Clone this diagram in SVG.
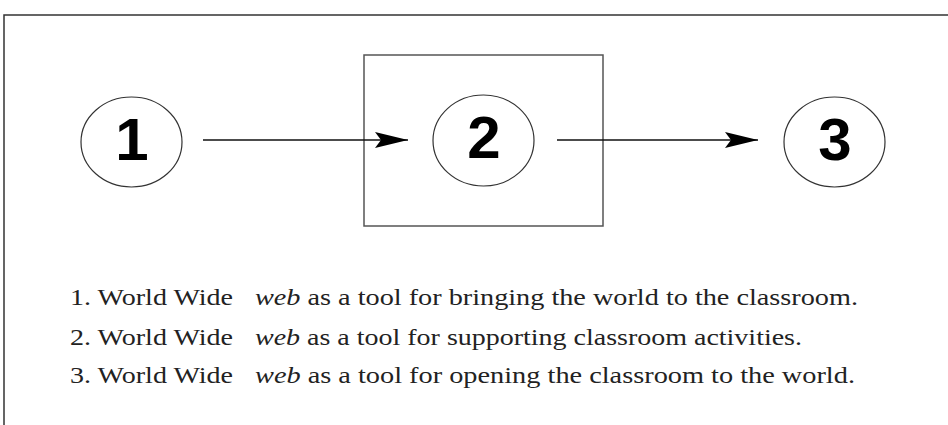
<svg xmlns="http://www.w3.org/2000/svg" width="948" height="425" viewBox="0 0 948 425">
<style>
.frame{fill:none;stroke:#333;stroke-width:1.5}
.box{fill:none;stroke:#555;stroke-width:1.5}
.node{fill:#fff;stroke:#333;stroke-width:1.2}
.num{font-family:"Liberation Sans",Arial,sans-serif;font-weight:bold;font-size:60px;fill:#000;text-anchor:middle}
.edge{stroke:#111;stroke-width:1.6;fill:none}
.cap{font-family:"Liberation Serif","Times New Roman",serif;font-size:24px;fill:#222}
.it{font-style:italic}
</style>
<defs>
<marker id="ah" markerWidth="33" markerHeight="16" refX="33" refY="8" orient="auto" markerUnits="userSpaceOnUse">
<path d="M0,0 L33,8 L0,16 L6,8 Z" fill="#000"/>
</marker>
</defs>
<path class="frame" d="M4,425 L4,15 L948,15"/>
<rect id="box2" class="box" x="364" y="55" width="239" height="171"/>
<g id="connectors">
<line class="edge" x1="203" y1="140" x2="408" y2="140" marker-end="url(#ah)"/>
<line class="edge" x1="557" y1="140" x2="758" y2="140" marker-end="url(#ah)"/>
</g>
<g id="node1">
<ellipse class="node" cx="131.5" cy="142" rx="50.5" ry="45"/>
<text class="num" x="132" y="160">1</text>
</g>
<g id="node2">
<ellipse class="node" cx="483.5" cy="140.5" rx="50.5" ry="45.5"/>
<text class="num" x="484" y="158">2</text>
</g>
<g id="node3">
<ellipse class="node" cx="834.5" cy="142" rx="50.5" ry="45"/>
<text class="num" x="835" y="160">3</text>
</g>
<g id="legend">
<text class="cap" x="70" y="305" textLength="163" lengthAdjust="spacingAndGlyphs">1. World Wide</text>
<text class="cap" x="255" y="305" textLength="603" lengthAdjust="spacingAndGlyphs"><tspan class="it">web</tspan> as a tool for bringing the world to the classroom.</text>
<text class="cap" x="70" y="345" textLength="163" lengthAdjust="spacingAndGlyphs">2. World Wide</text>
<text class="cap" x="255" y="345" textLength="547" lengthAdjust="spacingAndGlyphs"><tspan class="it">web</tspan> as a tool for supporting classroom activities.</text>
<text class="cap" x="70" y="383" textLength="163" lengthAdjust="spacingAndGlyphs">3. World Wide</text>
<text class="cap" x="255" y="383" textLength="600" lengthAdjust="spacingAndGlyphs"><tspan class="it">web</tspan> as a tool for opening the classroom to the world.</text>
</g>
</svg>
